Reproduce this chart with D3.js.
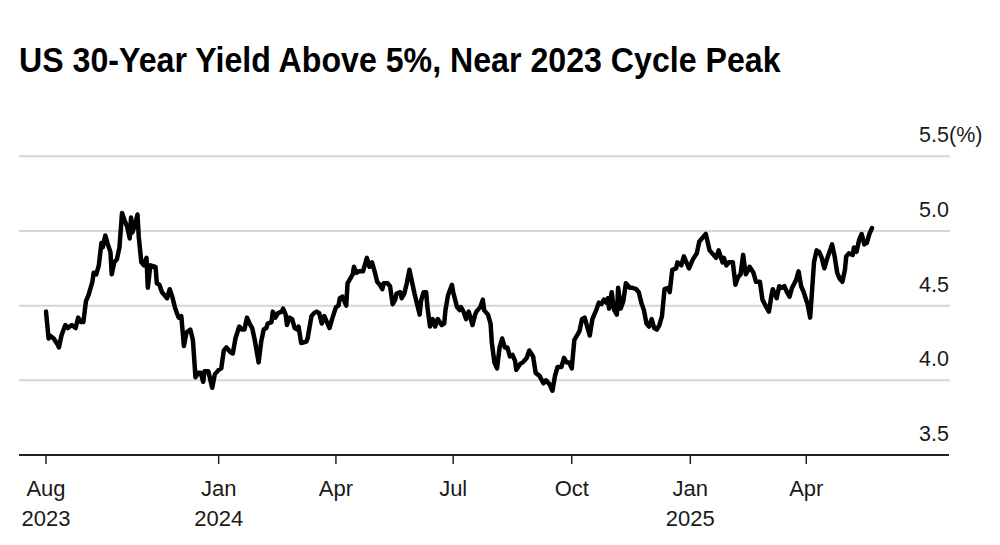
<!DOCTYPE html>
<html><head><meta charset="utf-8">
<script src="https://cdn.jsdelivr.net/npm/d3@7"></script>
<style>
body{margin:0;background:#fff;}
svg{display:block;font-family:"Liberation Sans",Arial,Helvetica,sans-serif;}
</style></head><body>
<svg id="chart" width="1000" height="545"></svg>
<script>
const title = "US 30-Year Yield Above 5%, Near 2023 Cycle Peak";
const dates = [
"2023-08-20","2023-08-22","2023-08-23","2023-08-26","2023-08-29","2023-08-30","2023-09-01","2023-09-04","2023-09-06","2023-09-09",
"2023-09-12","2023-09-14","2023-09-16","2023-09-18","2023-09-20","2023-09-22","2023-09-25","2023-09-26","2023-09-28","2023-09-30",
"2023-10-02","2023-10-03","2023-10-05","2023-10-07","2023-10-09","2023-10-10","2023-10-12","2023-10-14","2023-10-16","2023-10-18",
"2023-10-20","2023-10-22","2023-10-24","2023-10-25","2023-10-26","2023-10-28","2023-10-30","2023-10-31","2023-11-02","2023-11-04",
"2023-11-06","2023-11-07","2023-11-09","2023-11-13","2023-11-14","2023-11-16","2023-11-18","2023-11-20","2023-11-22","2023-11-24",
"2023-11-26","2023-11-28","2023-11-30","2023-12-01","2023-12-03","2023-12-05","2023-12-07","2023-12-10","2023-12-12","2023-12-14",
"2023-12-16","2023-12-18","2023-12-20","2023-12-21","2023-12-24","2023-12-27","2023-12-29","2024-01-01","2024-01-03","2024-01-05",
"2024-01-07","2024-01-10","2024-01-12","2024-01-14","2024-01-17","2024-01-19","2024-01-21","2024-01-23","2024-01-25","2024-01-27",
"2024-01-29","2024-02-01","2024-02-03","2024-02-05","2024-02-07","2024-02-08","2024-02-11","2024-02-12","2024-02-14","2024-02-16",
"2024-02-19","2024-02-20","2024-02-22","2024-02-23","2024-02-25","2024-02-27","2024-02-29","2024-03-02","2024-03-03","2024-03-05",
"2024-03-09","2024-03-10","2024-03-13","2024-03-15","2024-03-17","2024-03-19","2024-03-21","2024-03-23","2024-03-25","2024-03-27",
"2024-03-29","2024-04-01","2024-04-03","2024-04-04","2024-04-06","2024-04-09","2024-04-10","2024-04-12","2024-04-14","2024-04-15",
"2024-04-17","2024-04-19","2024-04-22","2024-04-25","2024-04-27","2024-04-29","2024-05-01","2024-05-03","2024-05-05","2024-05-07",
"2024-05-08","2024-05-11","2024-05-13","2024-05-15","2024-05-17","2024-05-18","2024-05-21","2024-05-22","2024-05-24","2024-05-26",
"2024-05-28","2024-05-30","2024-06-01","2024-06-03","2024-06-05","2024-06-06","2024-06-08","2024-06-10","2024-06-11","2024-06-13",
"2024-06-15","2024-06-17","2024-06-19","2024-06-22","2024-06-24","2024-06-25","2024-06-27","2024-06-30","2024-07-01","2024-07-04",
"2024-07-06","2024-07-07","2024-07-09","2024-07-11","2024-07-13","2024-07-14","2024-07-16","2024-07-18","2024-07-19","2024-07-22",
"2024-07-24","2024-07-25","2024-07-28","2024-07-30","2024-07-31","2024-08-02","2024-08-04","2024-08-06","2024-08-08","2024-08-10",
"2024-08-12","2024-08-14","2024-08-16","2024-08-18","2024-08-19","2024-08-22","2024-08-24","2024-08-27","2024-08-29","2024-09-01",
"2024-09-03","2024-09-06","2024-09-09","2024-09-11","2024-09-14","2024-09-16","2024-09-18","2024-09-20","2024-09-23","2024-09-25",
"2024-09-27","2024-09-29","2024-10-01","2024-10-03","2024-10-05","2024-10-07","2024-10-09","2024-10-11","2024-10-13","2024-10-15",
"2024-10-17","2024-10-20","2024-10-22","2024-10-24","2024-10-26","2024-10-28","2024-10-29","2024-10-30","2024-11-01","2024-11-02",
"2024-11-03","2024-11-05","2024-11-06","2024-11-08","2024-11-10","2024-11-12","2024-11-15","2024-11-17","2024-11-20","2024-11-22",
"2024-11-24","2024-11-26","2024-11-28","2024-11-30","2024-12-02","2024-12-04","2024-12-06","2024-12-08","2024-12-10","2024-12-12",
"2024-12-15","2024-12-16","2024-12-18","2024-12-21","2024-12-22","2024-12-25","2024-12-27","2024-12-29","2024-12-31","2025-01-02",
"2025-01-03","2025-01-06","2025-01-08","2025-01-11","2025-01-13","2025-01-16","2025-01-18","2025-01-21","2025-01-23","2025-01-26",
"2025-01-27","2025-01-29","2025-01-31","2025-02-03","2025-02-05","2025-02-07","2025-02-09","2025-02-11","2025-02-13","2025-02-15",
"2025-02-16","2025-02-19","2025-02-21","2025-02-24","2025-02-26","2025-03-01","2025-03-03","2025-03-05","2025-03-06","2025-03-09",
"2025-03-11","2025-03-13","2025-03-15","2025-03-17","2025-03-19","2025-03-21","2025-03-24","2025-03-26","2025-03-28","2025-03-30",
"2025-04-02","2025-04-04","2025-04-05","2025-04-07","2025-04-09","2025-04-11","2025-04-13","2025-04-15","2025-04-17","2025-04-19",
"2025-04-21","2025-04-23","2025-04-25","2025-04-27","2025-04-29","2025-05-01","2025-05-02","2025-05-04","2025-05-07","2025-05-08",
"2025-05-10","2025-05-12","2025-05-14","2025-05-16","2025-05-18","2025-05-20","2025-05-22"
];
const yields = [
4.46,4.28,4.30,4.28,4.24,4.22,4.30,4.37,4.35,4.37,
4.35,4.42,4.39,4.39,4.53,4.57,4.66,4.72,4.71,4.77,
4.92,4.89,4.97,4.91,4.86,4.71,4.79,4.81,4.89,5.12,
5.07,5.03,4.95,5.09,4.99,5.04,5.11,4.96,4.79,4.77,
4.82,4.62,4.77,4.76,4.65,4.64,4.59,4.57,4.55,4.61,
4.56,4.49,4.44,4.42,4.43,4.23,4.32,4.34,4.27,4.02,
4.05,4.05,3.99,4.06,4.06,3.95,4.04,4.07,4.08,4.20,
4.22,4.19,4.18,4.28,4.36,4.34,4.34,4.42,4.38,4.35,
4.27,4.12,4.26,4.34,4.35,4.38,4.39,4.46,4.42,4.45,
4.46,4.48,4.44,4.37,4.42,4.41,4.35,4.34,4.36,4.25,
4.26,4.28,4.43,4.45,4.46,4.45,4.38,4.43,4.39,4.35,
4.41,4.49,4.50,4.55,4.56,4.50,4.65,4.68,4.71,4.76,
4.72,4.73,4.73,4.82,4.76,4.79,4.73,4.66,4.64,4.61,
4.65,4.65,4.63,4.51,4.54,4.58,4.59,4.55,4.58,4.65,
4.74,4.66,4.58,4.51,4.44,4.53,4.59,4.59,4.49,4.36,
4.41,4.36,4.41,4.37,4.38,4.47,4.57,4.64,4.59,4.49,
4.47,4.49,4.46,4.41,4.46,4.43,4.37,4.44,4.46,4.49,
4.54,4.47,4.44,4.38,4.25,4.12,4.08,4.22,4.28,4.22,
4.22,4.16,4.17,4.13,4.07,4.11,4.12,4.15,4.20,4.16,
4.05,4.03,3.98,4.00,3.97,3.93,4.03,4.09,4.09,4.15,
4.12,4.12,4.08,4.27,4.30,4.33,4.41,4.42,4.36,4.30,
4.41,4.47,4.52,4.51,4.54,4.52,4.55,4.48,4.59,4.52,
4.47,4.44,4.62,4.48,4.53,4.65,4.62,4.62,4.61,4.59,
4.52,4.47,4.38,4.36,4.41,4.35,4.34,4.37,4.43,4.61,
4.62,4.59,4.74,4.75,4.79,4.77,4.83,4.79,4.75,4.79,
4.81,4.85,4.93,4.96,4.98,4.87,4.85,4.82,4.87,4.79,
4.82,4.77,4.79,4.79,4.64,4.69,4.71,4.84,4.71,4.74,
4.76,4.72,4.66,4.66,4.54,4.49,4.46,4.57,4.61,4.55,
4.63,4.62,4.63,4.59,4.56,4.62,4.67,4.73,4.63,4.59,
4.51,4.42,4.54,4.79,4.87,4.86,4.82,4.75,4.81,4.86,
4.91,4.83,4.72,4.68,4.66,4.74,4.83,4.85,4.84,4.89,
4.86,4.94,4.98,4.91,4.92,4.98,5.02
];
const yTicks = [3.5, 4.0, 4.5, 5.0, 5.5];
const yUnit = "(%)";
const xTickDates = ["2023-08-20","2024-01-01","2024-04-01","2024-07-01","2024-10-01","2025-01-01","2025-04-01"];
const xTickLabels = [["Aug","2023"],["Jan","2024"],["Apr"],["Jul"],["Oct"],["Jan","2025"],["Apr"]];

const parse = d3.utcParse("%Y-%m-%d");
const data = dates.map((d, i) => ({date: parse(d), value: yields[i]}));

const svg = d3.select("#chart");
const gridLeft = 19, gridRight = 950;

const x = d3.scaleUtc()
  .domain([data[0].date, data[data.length - 1].date])
  .range([46, 872]);
const y = d3.scaleLinear().domain([3.5, 5.5]).range([455, 156.3]);

// title
const t = svg.append("text")
  .attr("x", 19).attr("y", 72)
  .attr("font-size", 34.5).attr("font-weight", "bold")
  .attr("fill", "#000")
  .text(title);
const tw = t.node().getComputedTextLength();
if (tw > 0) {
  const s = 762 / tw;
  t.attr("transform", `translate(19,72) scale(${s},1) translate(-19,-72)`);
}

// gridlines
svg.append("g").selectAll("line")
  .data(yTicks.filter(v => v > 3.5))
  .join("line")
  .attr("x1", gridLeft).attr("x2", gridRight)
  .attr("y1", d => y(d)).attr("y2", d => y(d))
  .attr("stroke", "#d6d6d6").attr("stroke-width", 2);

// y labels
const fmt = d3.format(".1f");
svg.append("g").selectAll("text")
  .data(yTicks)
  .join("text")
  .attr("x", 949).attr("y", d => y(d) - 14)
  .attr("text-anchor", "end")
  .attr("font-size", 21.5).attr("fill", "#1a1a1a")
  .text(d => fmt(d));
svg.append("text")
  .attr("x", 949).attr("y", y(5.5) - 14)
  .attr("font-size", 21.5).attr("fill", "#1a1a1a")
  .text(yUnit);

// x axis baseline
svg.append("line")
  .attr("x1", gridLeft).attr("x2", 949)
  .attr("y1", y(3.5)).attr("y2", y(3.5))
  .attr("stroke", "#222").attr("stroke-width", 2);

const xt = svg.append("g").selectAll("g")
  .data(xTickDates.map((d, i) => ({date: parse(d), lab: xTickLabels[i]})))
  .join("g")
  .attr("transform", d => `translate(${x(d.date)},0)`);
xt.append("line")
  .attr("y1", y(3.5)).attr("y2", y(3.5) + 9)
  .attr("stroke", "#222").attr("stroke-width", 1.5);
xt.each(function(d) {
  const g = d3.select(this);
  d.lab.forEach((l, j) => {
    g.append("text")
      .attr("y", 496 + j * 30)
      .attr("text-anchor", "middle")
      .attr("font-size", 22).attr("fill", "#1a1a1a")
      .text(l);
  });
});

// line
const line = d3.line().x(d => x(d.date)).y(d => y(d.value));
svg.append("path")
  .datum(data)
  .attr("d", line)
  .attr("fill", "none")
  .attr("stroke", "#000")
  .attr("stroke-width", 4.5)
  .attr("stroke-linejoin", "round")
  .attr("stroke-linecap", "round");
</script>
</body></html>
